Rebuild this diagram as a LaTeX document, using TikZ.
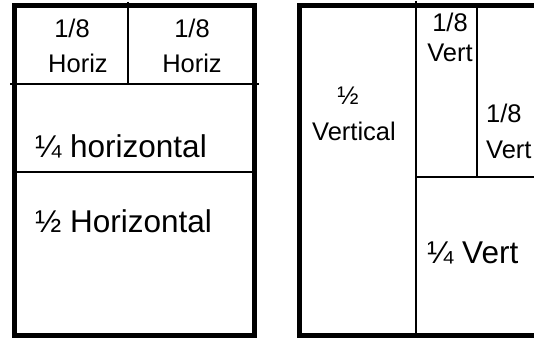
\documentclass[tikz,border=0pt]{standalone}
\usepackage{fontspec}
\setmainfont{Liberation Sans}
\begin{document}
\begin{tikzpicture}[x=1pt,y=-1pt,
  frame/.style={line width=5pt,line join=miter},
  thin/.style={line width=2pt},
  small/.style={inner sep=0pt,font=\fontsize{25.5}{28}\selectfont},
  big/.style={inner sep=0pt,font=\fontsize{31.5}{34}\selectfont}]
\useasboundingbox (0,0) rectangle (534,339);
\clip (0,0) rectangle (534,339);
\fill[white] (0,0) rectangle (534,339);
% left box
\draw[thin] (10,84) -- (259,84);
\draw[thin] (128,2) -- (128,84);
\draw[thin] (14,172) -- (255,172);
\draw[frame] (14.5,5.5) rectangle (254.5,335.5);
% right box
\draw[thin] (416,1) -- (416,335);
\draw[thin] (477,4) -- (477,177);
\draw[thin] (416,177) -- (540,177);
\draw[frame] (545,5.5) -- (299,5.5) -- (299,335.5) -- (545,335.5);
% texts left
\node[small,anchor=base] (a1) at (72,38) {1/8};
\node[small,anchor=base] (a2) at (78,73) {Horiz};
\node[small,anchor=base] (b1) at (192,38) {1/8};
\node[small,anchor=base] (b2) at (192,73) {Horiz};
\node[big,anchor=base west] (c) at (35,157) {¼ horizontal};
\node[big,anchor=base west] (d) at (35,232) {½ Horizontal};
% texts right
\node[small,anchor=base] (e1) at (348,105) {½};
\node[small,anchor=base] (e2) at (354,140) {Vertical};
\node[small,anchor=base] (f1) at (450,32) {1/8};
\node[small,anchor=base] (f2) at (450,62) {Vert};
\node[small,anchor=base west] (g1) at (486,123) {1/8};
\node[small,anchor=base west] (g2) at (486,158) {Vert};
\node[big,anchor=base west] (h) at (427,263) {¼ Vert};
\end{tikzpicture}
\end{document}
